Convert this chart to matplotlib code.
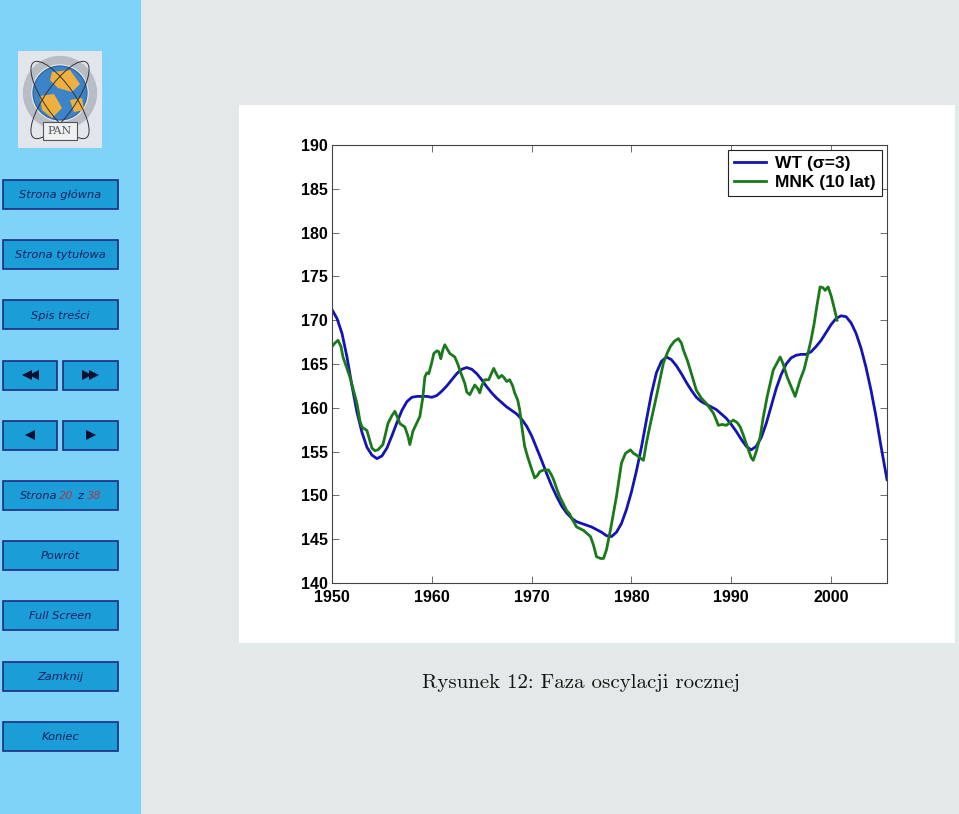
"""Slide 20: phase of the annual oscillation (WT vs MNK)."""

import matplotlib
matplotlib.use("Agg")
import matplotlib.pyplot as plt
from matplotlib.patches import Rectangle, Circle, Polygon, Ellipse

# --- data ---
wt_years = [1950.0, 1950.5, 1951.0, 1951.5, 1952.0, 1952.5, 1953.0, 1953.5, 1954.0, 1954.5,
            1955.0, 1955.5, 1956.0, 1956.5, 1957.0, 1957.5, 1958.0, 1958.5, 1959.0, 1959.5,
            1960.0, 1960.5, 1961.0, 1961.5, 1962.0, 1962.5, 1963.0, 1963.5, 1964.0, 1964.5,
            1965.0, 1965.5, 1966.0, 1966.5, 1967.0, 1967.5, 1968.0, 1968.5, 1969.0, 1969.5,
            1970.0, 1970.5, 1971.0, 1971.5, 1972.0, 1972.5, 1973.0, 1973.5, 1974.0, 1974.5,
            1975.0, 1975.5, 1976.0, 1976.5, 1977.0, 1977.5, 1978.0, 1978.5, 1979.0, 1979.5,
            1980.0, 1980.5, 1981.0, 1981.5, 1982.0, 1982.5, 1983.0, 1983.5, 1984.0, 1984.5,
            1985.0, 1985.5, 1986.0, 1986.5, 1987.0, 1987.5, 1988.0, 1988.5, 1989.0, 1989.5,
            1990.0, 1990.5, 1991.0, 1991.5, 1992.0, 1992.5, 1993.0, 1993.5, 1994.0, 1994.5,
            1995.0, 1995.5, 1996.0, 1996.5, 1997.0, 1997.5, 1998.0, 1998.5, 1999.0, 1999.5,
            2000.0, 2000.5, 2001.0, 2001.5, 2002.0, 2002.5, 2003.0, 2003.5, 2004.0, 2004.5,
            2005.0, 2005.6]
wt_values = [171.2, 170.2, 168.5, 165.8, 162.5, 159.5, 157.2, 155.5, 154.6, 154.2,
             154.5, 155.4, 156.8, 158.3, 159.7, 160.7, 161.2, 161.3, 161.3, 161.3,
             161.2, 161.4, 161.9, 162.5, 163.2, 163.9, 164.4, 164.6, 164.4, 163.9,
             163.2, 162.4, 161.7, 161.1, 160.6, 160.1, 159.7, 159.3, 158.7, 157.9,
             156.8, 155.4, 154.0, 152.5, 151.1, 149.9, 148.8, 148.0, 147.4, 147.0,
             146.8, 146.6, 146.4, 146.1, 145.8, 145.4, 145.3, 145.8, 146.8, 148.4,
             150.4, 152.8, 155.5, 158.6, 161.6, 164.0, 165.3, 165.8, 165.5, 164.8,
             163.9, 162.9, 162.0, 161.2, 160.7, 160.4, 160.1, 159.8, 159.3, 158.8,
             158.1, 157.3, 156.4, 155.6, 155.2, 155.6, 156.6, 158.2, 160.2, 162.2,
             163.8, 165.0, 165.7, 166.0, 166.1, 166.1, 166.4, 167.0, 167.7, 168.6,
             169.5, 170.2, 170.5, 170.4, 169.7, 168.5, 166.8, 164.6, 162.0, 159.0,
             155.6, 151.8]

mnk_years = [1950.0, 1950.3, 1950.6, 1950.9, 1951.1, 1951.5, 1951.8, 1952.2, 1952.5, 1952.8,
             1953.0, 1953.5, 1953.8, 1954.0, 1954.3, 1954.6, 1955.1, 1955.4, 1955.6, 1956.0,
             1956.3, 1956.6, 1956.8, 1957.3, 1957.6, 1957.8, 1958.1, 1958.3, 1958.8, 1959.1,
             1959.3, 1959.5, 1959.7, 1960.0, 1960.2, 1960.5, 1960.7, 1960.9, 1961.1, 1961.3,
             1961.6, 1961.8, 1962.3, 1962.6, 1962.8, 1963.3, 1963.5, 1963.8, 1964.3, 1964.6,
             1964.8, 1965.0, 1965.3, 1965.7, 1966.0, 1966.2, 1966.5, 1966.7, 1967.0, 1967.2,
             1967.5, 1967.8, 1968.1, 1968.3, 1968.6, 1968.8, 1969.0, 1969.3, 1969.6, 1969.8,
             1970.0, 1970.3, 1970.6, 1970.8, 1971.2, 1971.7, 1972.0, 1972.2, 1972.5, 1972.8,
             1973.2, 1973.5, 1973.8, 1974.1, 1974.5, 1975.2, 1975.6, 1975.9, 1976.2, 1976.5,
             1976.9, 1977.2, 1977.5, 1977.9, 1978.2, 1978.5, 1979.0, 1979.4, 1979.9, 1980.2,
             1980.5, 1981.2, 1981.5, 1981.9, 1982.5, 1983.2, 1983.6, 1983.9, 1984.3, 1984.7,
             1985.0, 1985.2, 1985.6, 1985.9, 1986.5, 1987.0, 1987.5, 1988.2, 1988.5, 1988.7,
             1989.1, 1989.5, 1990.2, 1990.6, 1990.9, 1991.2, 1991.5, 1992.0, 1992.2, 1992.5,
             1992.9, 1993.2, 1993.6, 1994.2, 1994.9, 1995.2, 1995.6, 1996.0, 1996.4, 1996.9,
             1997.3, 1997.6, 1998.0, 1998.3, 1998.6, 1998.9, 1999.2, 1999.4, 1999.7, 2000.0,
             2000.2, 2000.6]
mnk_values = [167.0, 167.4, 167.7, 167.0, 165.8, 164.5, 163.5, 161.8, 160.5, 158.5,
              157.8, 157.4, 156.2, 155.4, 155.1, 155.2, 155.8, 157.2, 158.2, 159.1,
              159.6, 158.8, 158.2, 157.8, 156.8, 155.8, 157.3, 157.8, 159.0, 161.2,
              163.5, 164.0, 163.9, 165.2, 166.2, 166.5, 166.4, 165.6, 166.6, 167.2,
              166.6, 166.2, 165.8, 165.0, 164.3, 162.8, 161.8, 161.5, 162.6, 162.2,
              161.7, 162.5, 163.2, 163.2, 164.0, 164.5, 163.8, 163.4, 163.7, 163.5,
              163.0, 163.2, 162.5, 161.7, 160.9, 159.8, 158.0, 155.6, 154.4, 153.7,
              153.0, 152.0, 152.3, 152.7, 152.9, 152.9, 152.3, 151.8, 150.8, 149.9,
              149.0, 148.3, 147.9, 147.2, 146.4, 146.0, 145.6, 145.3, 144.3, 143.0,
              142.8, 142.8, 143.8, 146.1, 148.0, 149.9, 153.7, 154.8, 155.2, 154.8,
              154.6, 154.0, 156.0, 158.2, 161.3, 165.1, 166.3, 167.0, 167.6, 167.9,
              167.4, 166.6, 165.4, 164.3, 162.0, 161.1, 160.5, 159.4, 158.6, 158.0,
              158.1, 158.0, 158.6, 158.3, 157.8, 156.9, 155.9, 154.3, 154.0, 155.0,
              156.7, 158.9, 161.3, 164.3, 165.8, 165.0, 163.5, 162.4, 161.3, 163.2,
              164.4, 165.8, 167.8, 169.6, 171.8, 173.8, 173.7, 173.4, 173.8, 172.8,
              171.9, 170.0]

series_labels = ["WT (σ=3)", "MNK (10 lat)"]
x_ticks = [1950, 1960, 1970, 1980, 1990, 2000]
y_ticks = [140, 145, 150, 155, 160, 165, 170, 175, 180, 185, 190]

nav_buttons = ["Strona główna", "Strona tytułowa", "Spis treści", None, None,
               "Strona 20 z 38", "Powrót", "Full Screen", "Zamknij", "Koniec"]
caption = "Rysunek 12: Faza oscylacji rocznej"

W, H = 959, 814
SIDEBAR = "#80d3f8"
PAGE_BG = "#e3e9e8"
BTN = "#1b9dd7"
BTN_EDGE = "#1e2c80"
BTN_TEXT = "#102060"
BTN_RED = "#b03848"
BTN_FS = 8.2

fig = plt.figure(figsize=(W / 100, H / 100), dpi=100)
fig.patch.set_facecolor(PAGE_BG)

# page layer in pixel coordinates
pg = fig.add_axes([0, 0, 1, 1])
pg.set_xlim(0, W)
pg.set_ylim(H, 0)
pg.axis("off")

pg.add_patch(Rectangle((0, 0), 141, H, color=SIDEBAR, lw=0))
pg.add_patch(Rectangle((239, 105), 716, 538, color="white", lw=0))

# logo (simplified)
pg.add_patch(Rectangle((18, 51), 84, 97, color="#e2e6ec", lw=0))
pg.add_patch(Circle((60, 93), 33, fc="none", ec="#b8bcc4", lw=6))
pg.add_patch(Circle((60, 93), 27, fc="#3d83c8", ec="#2c5f96", lw=0.8))
pg.add_patch(Polygon([(52, 72), (70, 70), (80, 84), (72, 92), (58, 88), (50, 80)],
                     fc="#f0b040", lw=0))
pg.add_patch(Polygon([(40, 96), (54, 94), (62, 108), (52, 118), (42, 110)],
                     fc="#f0b040", lw=0))
pg.add_patch(Polygon([(70, 100), (82, 98), (84, 110), (74, 112)], fc="#f0b040", lw=0))
pg.add_patch(Ellipse((60, 100), 30, 92, angle=35, fc="none", ec="#333333", lw=0.7))
pg.add_patch(Ellipse((60, 100), 30, 92, angle=-35, fc="none", ec="#333333", lw=0.7))
pg.add_patch(Rectangle((43, 122), 34, 18, fc="#eef0f2", ec="#555555", lw=0.8))
pg.text(60, 131, "PAN", ha="center", va="center", fontsize=8, color="#555555",
        family="DejaVu Serif")

# navigation buttons
top = 180
for i, label in enumerate(nav_buttons):
    y0 = top + i * 60.2
    cy = y0 + 15
    if label is None:
        for x0, x1, d in [(3, 57, -1), (63, 118, 1)]:
            pg.add_patch(Rectangle((x0, y0), x1 - x0, 29, fc=BTN, ec=BTN_EDGE, lw=1.2))
            cx = (x0 + x1) / 2
            n = 2 if i == 3 else 1
            for k in range(n):
                off = (k - (n - 1) / 2) * 7
                pg.plot(cx + off, cy - 0.5, marker="<" if d < 0 else ">", ms=7,
                        color="#0a1030", mew=0)
        continue
    pg.add_patch(Rectangle((3, y0), 115, 29, fc=BTN, ec=BTN_EDGE, lw=1.2))
    if label.startswith("Strona 20"):
        parts = [("Strona", 20, BTN_TEXT), ("20", 59, BTN_RED),
                 ("z", 77, BTN_TEXT), ("38", 87, BTN_RED)]
        for txt, x, c in parts:
            pg.text(x, cy, txt, ha="left", va="center", fontsize=BTN_FS,
                    style="italic", color=c)
    else:
        pg.text(60.5, cy, label, ha="center", va="center", fontsize=BTN_FS,
                style="italic", color=BTN_TEXT)

pg.text(581, 683, caption, ha="center", va="center", fontsize=15, family="cmr10",
        color="#151515")

# chart
ax = fig.add_axes([332 / W, (H - 583) / H, 555 / W, 438 / H])
ax.plot(wt_years, wt_values, color="#1414b4", lw=2.0, label=series_labels[0])
ax.plot(mnk_years, mnk_values, color="#1a7a1a", lw=2.0, label=series_labels[1])
ax.set_xlim(1950, 2005.6)
ax.set_ylim(140, 190)
ax.set_xticks(x_ticks)
ax.set_yticks(y_ticks)
ax.tick_params(direction="in", top=True, right=True, length=5, width=0.6,
               color="#555555")
ax.tick_params(axis="x", pad=5)
ax.tick_params(axis="y", pad=3)
for lab in ax.get_xticklabels() + ax.get_yticklabels():
    lab.set_fontfamily("Liberation Sans")
    lab.set_fontweight("bold")
    lab.set_fontsize(11.5)
for sp in ax.spines.values():
    sp.set_color("#444444")
    sp.set_linewidth(0.8)

leg = ax.legend(loc="upper right", borderaxespad=0.3, fancybox=False, framealpha=1,
                handlelength=1.8, handletextpad=0.55, borderpad=0.35, labelspacing=0.2,
                prop={"family": "Liberation Sans", "weight": "bold", "size": 12.5})
leg.get_frame().set_edgecolor("#222222")
leg.get_frame().set_linewidth(0.8)

fig.savefig("out.png", dpi=100, facecolor=fig.get_facecolor())
